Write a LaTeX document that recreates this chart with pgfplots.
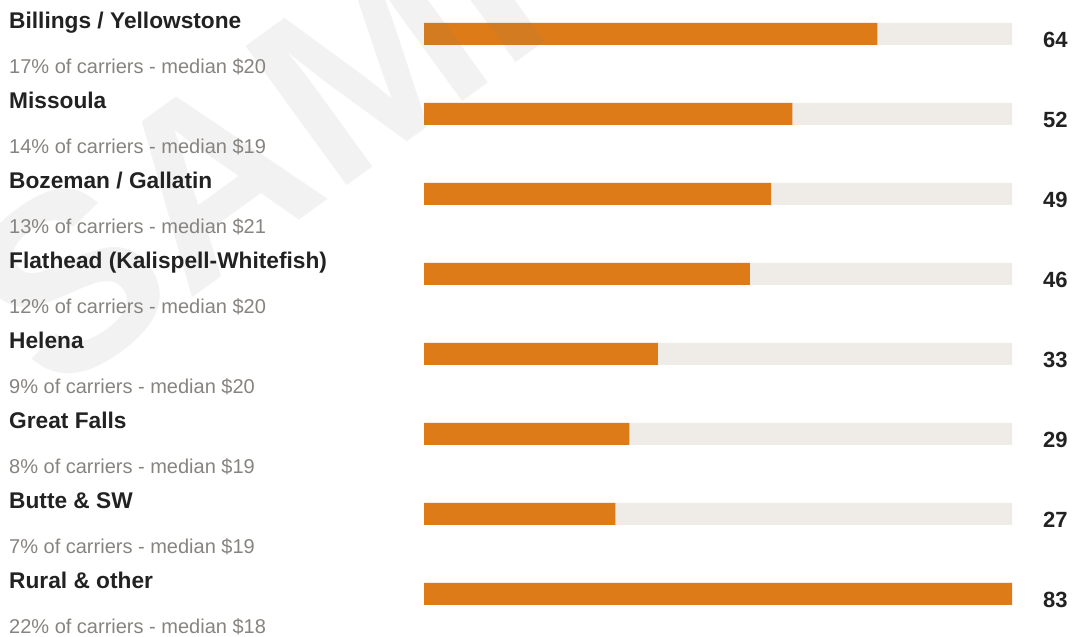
\documentclass[border=0pt]{standalone}
\usepackage{pgfplots}
\pgfplotsset{compat=1.18}
\usepackage{fontspec}
\setmainfont{Liberation Sans}
\definecolor{barorange}{HTML}{DC7B17}
\definecolor{track}{HTML}{EFEBE7}
\definecolor{namecol}{HTML}{222222}
\definecolor{subcol}{HTML}{87837F}
\begin{document}
\begin{tikzpicture}
\begin{axis}[
  scale only axis, width=1074pt, height=637pt,
  xmin=-59.85, xmax=91.75, ymin=-0.425, ymax=7.5375,
  y dir=reverse, hide axis, clip=true,
  xbar, bar width=22pt, bar shift=0pt,
]
\addplot[draw=none, fill=track,
  point meta=explicit symbolic,
  nodes near coords,
  every node near coord/.append style={anchor=base west, inner sep=0pt, xshift=31pt, yshift=-13.7pt, font=\fontsize{22}{26}\selectfont\bfseries, text=namecol}]
  coordinates {(83,0) [64] (83,1) [52] (83,2) [49] (83,3) [46] (83,4) [33] (83,5) [29] (83,6) [27] (83,7) [83]};
\addplot[draw=none, fill=barorange]
  coordinates {(64,0) (52,1) (49,2) (46,3) (33,4) (29,5) (27,6) (83,7)};
\node[rotate=36, text=gray, opacity=0.1, font=\fontsize{250}{250}\selectfont\bfseries, inner sep=0pt, anchor=base] at (axis cs:7.06,0.7375) {SAMPLE};
\def\nx{-58.58}
\tikzset{nm/.style={anchor=base west, inner sep=0pt, text=namecol, font=\fontsize{22.7}{26}\selectfont\bfseries},
         sb/.style={anchor=base west, inner sep=0pt, text=subcol, font=\fontsize{20}{24}\selectfont}}
\node[nm] at (axis cs:\nx,-0.0625) {Billings / Yellowstone};
\node[sb] at (axis cs:\nx,0.5) {17\% of carriers - median \$20};
\node[nm] at (axis cs:\nx,0.9375) {Missoula};
\node[sb] at (axis cs:\nx,1.5) {14\% of carriers - median \$19};
\node[nm] at (axis cs:\nx,1.9375) {Bozeman / Gallatin};
\node[sb] at (axis cs:\nx,2.5) {13\% of carriers - median \$21};
\node[nm] at (axis cs:\nx,2.9375) {Flathead (Kalispell-Whitefish)};
\node[sb] at (axis cs:\nx,3.5) {12\% of carriers - median \$20};
\node[nm] at (axis cs:\nx,3.9375) {Helena};
\node[sb] at (axis cs:\nx,4.5) {9\% of carriers - median \$20};
\node[nm] at (axis cs:\nx,4.9375) {Great Falls};
\node[sb] at (axis cs:\nx,5.5) {8\% of carriers - median \$19};
\node[nm] at (axis cs:\nx,5.9375) {Butte \& SW};
\node[sb] at (axis cs:\nx,6.5) {7\% of carriers - median \$19};
\node[nm] at (axis cs:\nx,6.9375) {Rural \& other};
\node[sb] at (axis cs:\nx,7.5) {22\% of carriers - median \$18};
\end{axis}
\pgfresetboundingbox
\path[use as bounding box] (current axis.south west) rectangle (current axis.north east);
\end{tikzpicture}
\end{document}
